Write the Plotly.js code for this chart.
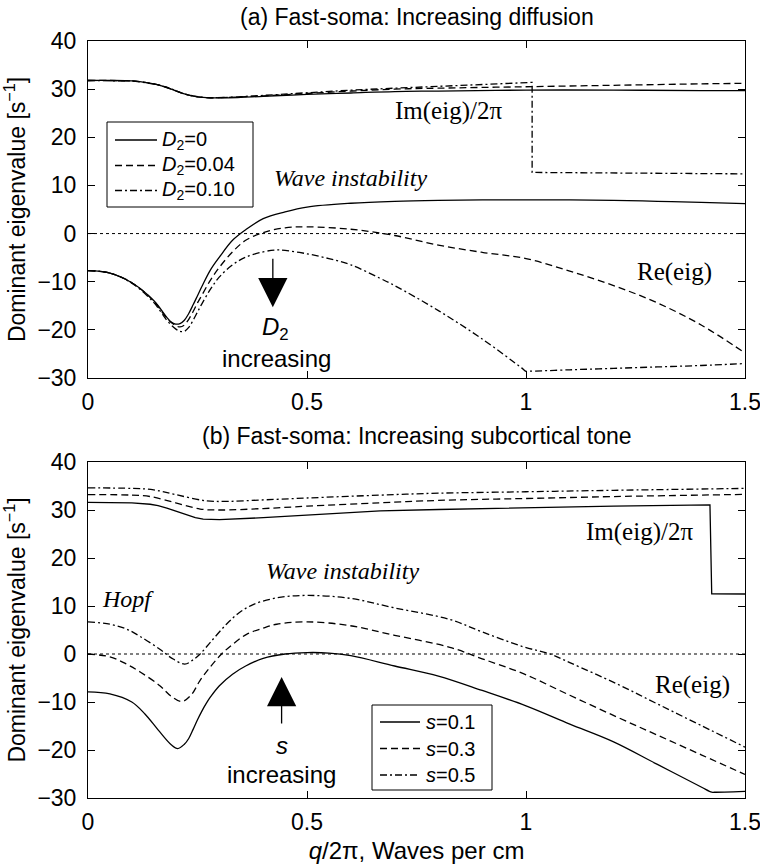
<!DOCTYPE html>
<html>
<head>
<meta charset="utf-8">
<script src="https://cdn.plot.ly/plotly-3.0.1.min.js"></script>
<style>html,body{margin:0;padding:0;background:#fff;}#chart{width:760px;height:865px;}</style>
</head>
<body>
<div id="chart"></div>
<script>
// ---------- Panel (a): Fast-soma, increasing diffusion ----------
const reA_x_D0   = [0,0.05,0.1,0.15,0.18,0.19,0.2,0.21,0.22,0.23,0.24,0.25,0.26,0.28,0.3,0.33,0.36,0.4,0.45,0.5,0.6,0.7,0.8,0.9,1.0,1.1,1.2,1.3,1.4,1.5];
const reA_y_D0   = [-7.7,-8.2,-10.2,-13.9,-17.4,-18.4,-18.8,-18.7,-18.0,-16.6,-14.8,-12.9,-11.0,-7.5,-4.9,-1.4,0.8,3.1,4.5,5.5,6.3,6.7,6.9,7.0,7.0,7.0,6.9,6.7,6.5,6.2];
const reA_x_D04  = [0,0.05,0.1,0.15,0.18,0.2,0.21,0.22,0.23,0.24,0.25,0.26,0.28,0.3,0.33,0.36,0.4,0.45,0.5,0.6,0.7,0.8,0.9,1.0,1.1,1.2,1.3,1.4,1.5];
const reA_y_D04  = [-7.7,-8.2,-10.2,-14.0,-17.6,-19.1,-19.4,-19.0,-17.8,-16.2,-14.4,-12.8,-9.6,-7.0,-3.8,-1.4,0.2,1.2,1.4,0.9,-0.4,-2.4,-3.9,-5.2,-7.8,-10.8,-14.4,-19.0,-24.8];
const reA_x_D10  = [0,0.05,0.1,0.15,0.18,0.2,0.21,0.22,0.23,0.24,0.25,0.26,0.28,0.3,0.33,0.36,0.4,0.43,0.45,0.5,0.55,0.6,0.667,0.7,0.8,0.9,0.99,1.0,1.005,1.1,1.2,1.3,1.4,1.5];
const reA_y_D10  = [-7.7,-8.2,-10.3,-14.3,-18.0,-19.8,-20.3,-20.3,-19.5,-18.0,-16.3,-14.6,-11.5,-9.0,-6.5,-4.9,-3.8,-3.4,-3.5,-4.2,-5.2,-6.5,-9.3,-10.8,-16.0,-21.9,-27.9,-28.6,-28.6,-28.3,-28.0,-27.7,-27.4,-27.0];

const imA_x_D0   = [0,0.05,0.1,0.13,0.16,0.19,0.22,0.25,0.28,0.32,0.4,0.5,0.6,0.7,0.8,1.0,1.2,1.4,1.5];
const imA_y_D0   = [31.8,31.8,31.7,31.4,30.9,30.0,29.0,28.4,28.2,28.2,28.5,28.9,29.2,29.5,29.6,29.8,29.8,29.7,29.7];
const imA_x_D04  = [0,0.05,0.1,0.13,0.16,0.19,0.22,0.25,0.28,0.32,0.4,0.5,0.6,0.7,0.8,1.0,1.2,1.4,1.5];
const imA_y_D04  = [31.8,31.8,31.7,31.4,30.9,30.0,29.0,28.4,28.2,28.3,28.6,29.1,29.6,30.0,30.2,30.5,30.8,31.1,31.2];
const imA_x_D10  = [0,0.05,0.1,0.12,0.14,0.16,0.18,0.2,0.22,0.24,0.26,0.28,0.32,0.4,0.5,0.6,0.7,0.8,0.9,1.0,1.014,1.014,1.2,1.4,1.5];
const imA_y_D10  = [31.8,31.8,31.7,31.5,31.2,30.9,30.4,29.7,29.0,28.6,28.3,28.2,28.3,28.7,29.3,29.8,30.2,30.6,31.0,31.3,31.4,12.7,12.6,12.5,12.4];

// ---------- Panel (b): Fast-soma, increasing subcortical tone ----------
const reB_x_s1 = [0,0.05,0.1,0.13,0.16,0.19,0.205,0.22,0.23,0.24,0.25,0.26,0.27,0.28,0.3,0.33,0.36,0.4,0.45,0.5,0.55,0.6,0.7,0.8,0.9,1.0,1.1,1.2,1.3,1.4,1.424,1.43,1.5];
const reB_y_s1 = [-7.9,-8.3,-10.0,-12.5,-15.8,-18.9,-19.7,-18.8,-17.6,-15.7,-13.7,-11.9,-10.3,-8.9,-6.6,-4.2,-2.5,-0.9,0.0,0.3,0.2,-0.35,-2.5,-4.6,-7.6,-10.8,-14.6,-18.3,-23.0,-27.7,-28.8,-28.8,-28.6];
const reB_x_s3 = [0,0.05,0.088,0.12,0.164,0.19,0.214,0.235,0.256,0.28,0.305,0.33,0.362,0.4,0.431,0.5,0.598,0.7,0.826,0.9,0.994,1.1,1.207,1.3,1.4,1.5];
const reB_y_s3 = [0.0,-0.6,-2.1,-3.8,-6.6,-8.8,-9.9,-8.6,-5.5,-2.6,0.0,2.0,4.1,5.4,6.2,6.7,5.9,3.9,1.4,-1.0,-4.1,-8.6,-13.1,-16.9,-21.0,-25.1];
const reB_x_s5 = [0,0.05,0.088,0.12,0.164,0.19,0.221,0.24,0.256,0.28,0.316,0.345,0.377,0.431,0.5,0.598,0.7,0.826,0.9,0.994,1.055,1.1,1.207,1.3,1.4,1.5];
const reB_y_s5 = [6.7,6.2,5.2,3.6,1.0,-0.8,-2.1,-1.2,0.0,2.5,6.2,8.6,10.3,11.7,12.2,11.6,9.6,7.2,4.6,1.5,0.0,-1.8,-6.2,-10.4,-14.9,-19.4];

const imB_x_s1 = [0,0.1,0.142,0.16,0.18,0.2,0.225,0.245,0.263,0.3,0.4,0.5,0.667,0.8,1.0,1.2,1.42,1.424,1.5];
const imB_y_s1 = [31.6,31.5,31.2,30.9,30.4,29.8,29.0,28.4,28.1,28.0,28.4,28.9,29.8,30.1,30.5,30.8,31.05,12.55,12.5];
const imB_x_s3 = [0,0.1,0.142,0.2,0.256,0.3,0.4,0.5,0.667,0.8,1.0,1.2,1.5];
const imB_y_s3 = [33.2,33.1,32.8,31.5,30.2,30.0,30.3,30.8,31.5,32.0,32.4,32.8,33.25];
const imB_x_s5 = [0,0.1,0.15,0.2,0.271,0.32,0.4,0.5,0.667,0.8,1.0,1.2,1.5];
const imB_y_s5 = [34.6,34.5,34.2,33.2,31.9,31.8,32.1,32.5,33.1,33.5,33.8,34.1,34.5];

const namesA = ['<i>D</i><sub>2</sub>=0','<i>D</i><sub>2</sub>=0.04','<i>D</i><sub>2</sub>=0.10'];
const namesB = ['<i>s</i>=0.1','<i>s</i>=0.3','<i>s</i>=0.5'];
const xTickVals = [0,0.5,1,1.5];
const xTickText = ['0','0.5','1','1.5'];
const yTickVals = [-30,-20,-10,0,10,20,30,40];

const DASHES = ['solid','7px,4px','7px,3px,2px,3px'];
const LW = 1.3;
function tr(x,y,name,k,xa,ya,shape){
  return {x:x,y:y,name:name,type:'scatter',mode:'lines',xaxis:xa,yaxis:ya,showlegend:false,
    line:{color:'black',width:LW,dash:DASHES[k],shape:shape||'spline',smoothing:1},
    hoverinfo:'skip'};
}
const data = [
  tr(reA_x_D0, reA_y_D0, namesA[0],0,'x','y'),
  tr(reA_x_D04,reA_y_D04,namesA[1],1,'x','y'),
  tr(reA_x_D10,reA_y_D10,namesA[2],2,'x','y'),
  tr(imA_x_D0, imA_y_D0, namesA[0],0,'x','y'),
  tr(imA_x_D04,imA_y_D04,namesA[1],1,'x','y'),
  tr(imA_x_D10,imA_y_D10,namesA[2],2,'x','y','linear'),
  tr(reB_x_s1, reB_y_s1, namesB[0],0,'x2','y2'),
  tr(reB_x_s3, reB_y_s3, namesB[1],1,'x2','y2'),
  tr(reB_x_s5, reB_y_s5, namesB[2],2,'x2','y2'),
  tr(imB_x_s1, imB_y_s1, namesB[0],0,'x2','y2','linear'),
  tr(imB_x_s3, imB_y_s3, namesB[1],1,'x2','y2'),
  tr(imB_x_s5, imB_y_s5, namesB[2],2,'x2','y2')
];

const SANS = 'Liberation Sans, Arial, sans-serif';
const SERIF = 'Liberation Serif, Times New Roman, serif';
const tickFont = {family:SANS,size:23,color:'black'};

function xax(anchor,title){
  const a = {domain:[0,1],range:[0,1.5],anchor:anchor,tickvals:xTickVals,ticktext:xTickText,
    ticks:'inside',ticklen:7,tickwidth:1,tickcolor:'black',showline:true,linecolor:'black',linewidth:1,
    mirror:'ticks',showgrid:false,zeroline:false,tickfont:tickFont,ticklabelstandoff:3,ticklabeloverflow:'allow'};
  if(title) a.title={text:title,font:{family:SANS,size:24,color:'black'},standoff:8};
  return a;
}
function yax(anchor,domain){
  return {domain:domain,range:[-30,40],anchor:anchor,tickvals:yTickVals,
    ticks:'inside',ticklen:7,tickwidth:1,tickcolor:'black',showline:true,linecolor:'black',linewidth:1,
    mirror:'ticks',showgrid:false,zeroline:false,tickfont:tickFont,ticklabelstandoff:6,
    title:{text:'Dominant eigenvalue [s<sup>−1</sup>]',font:{family:SANS,size:23,color:'black'},standoff:10}};
}

function txt(text,xref,yref,x,y,font,xanchor){
  return {text:text,xref:xref,yref:yref,x:x,y:y,showarrow:false,font:font,xanchor:xanchor||'center',yanchor:'middle'};
}
const serifF = {family:SERIF,size:25,color:'black'};
const serifI = {family:SERIF,size:24,color:'black',style:'italic'};
const sansF  = {family:SANS,size:24,color:'black'};
const legF   = {family:SANS,size:20,color:'black'};

// pixel -> paper helpers for the hand-built legends (plot area: x 88..745, y 41..798)
const px = v => (v-88)/657;
const py = v => (798-v)/757;

const annotations = [
  txt('(a) Fast-soma: Increasing diffusion','paper','paper',0.5,py(17),{family:SANS,size:23,color:'black'}),
  txt('(b) Fast-soma: Increasing subcortical tone','paper','paper',0.5,py(436),{family:SANS,size:23,color:'black'}),
  txt('Im(eig)/2π','x','y',0.822,25.5,serifF),
  txt('Wave instability','x','y',0.6,11.6,serifI),
  txt('Re(eig)','x','y',1.34,-8.0,serifF),
  txt('<i>D</i><sub>2</sub>','x','y',0.427,-19.8,sansF),
  txt('increasing','x','y',0.43,-26.0,sansF),
  {x:0.422,y:-15.3,ax:0.422,ay:-4.9,xref:'x',yref:'y',axref:'x',ayref:'y',text:'',showarrow:true,
    arrowhead:2,arrowsize:4.5,arrowwidth:1.3,arrowcolor:'black',standoff:0,startstandoff:0},
  txt('Im(eig)/2π','x2','y2',1.26,25.5,serifF),
  txt('Wave instability','x2','y2',0.58,17.2,serifI),
  txt('Hopf','x2','y2',0.091,11.5,serifI),
  txt('Re(eig)','x2','y2',1.379,-6.4,serifF),
  txt('<i>s</i>','x2','y2',0.442,-19.0,sansF),
  txt('increasing','x2','y2',0.442,-25.2,sansF),
  {x:0.442,y:-4.8,ax:0.442,ay:-14.8,xref:'x2',yref:'y2',axref:'x2',ayref:'y2',text:'',showarrow:true,
    arrowhead:2,arrowsize:4.5,arrowwidth:1.3,arrowcolor:'black',standoff:0,startstandoff:0}
];

const shapes = [
  {type:'line',xref:'x domain',yref:'y',x0:0,x1:1,y0:0,y1:0,line:{color:'black',width:1,dash:'dot'}},
  {type:'line',xref:'x2 domain',yref:'y2',x0:0,x1:1,y0:0,y1:0,line:{color:'black',width:1,dash:'dot'}}
];

// hand-built legends (box, line samples, labels)
const legA = {box:[107,253,122,207], rows:[140,165.5,190.5], line:[115,157], text:160};
const legB = {box:[372,492,705,790], rows:[722,748.5,775], line:[380,420], text:424};
function addLegend(L,names){
  shapes.push({type:'rect',xref:'paper',yref:'paper',x0:px(L.box[0]),x1:px(L.box[1]),y0:py(L.box[3]),y1:py(L.box[2]),
    line:{color:'black',width:1},fillcolor:'white',layer:'above'});
  L.rows.forEach((r,i)=>{
    shapes.push({type:'line',xref:'paper',yref:'paper',x0:px(L.line[0]),x1:px(L.line[1]),y0:py(r),y1:py(r),
      line:{color:'black',width:LW,dash:DASHES[i]},layer:'above'});
    annotations.push(txt(names[i],'paper','paper',px(L.text),py(r),legF,'left'));
  });
}
addLegend(legA,namesA);
addLegend(legB,namesB);

const layout = {
  width:760,height:865,
  margin:{l:88,r:15,t:41,b:67},
  paper_bgcolor:'white',plot_bgcolor:'white',
  showlegend:false,
  xaxis:xax('y'),
  yaxis:yax('x',[py(378),1]),
  xaxis2:xax('y2','<i>q</i>/2π, Waves per cm'),
  yaxis2:yax('x2',[0,py(462)]),
  annotations:annotations,
  shapes:shapes
};

Plotly.newPlot('chart',data,layout,{staticPlot:true,displayModeBar:false});
</script>
</body>
</html>
